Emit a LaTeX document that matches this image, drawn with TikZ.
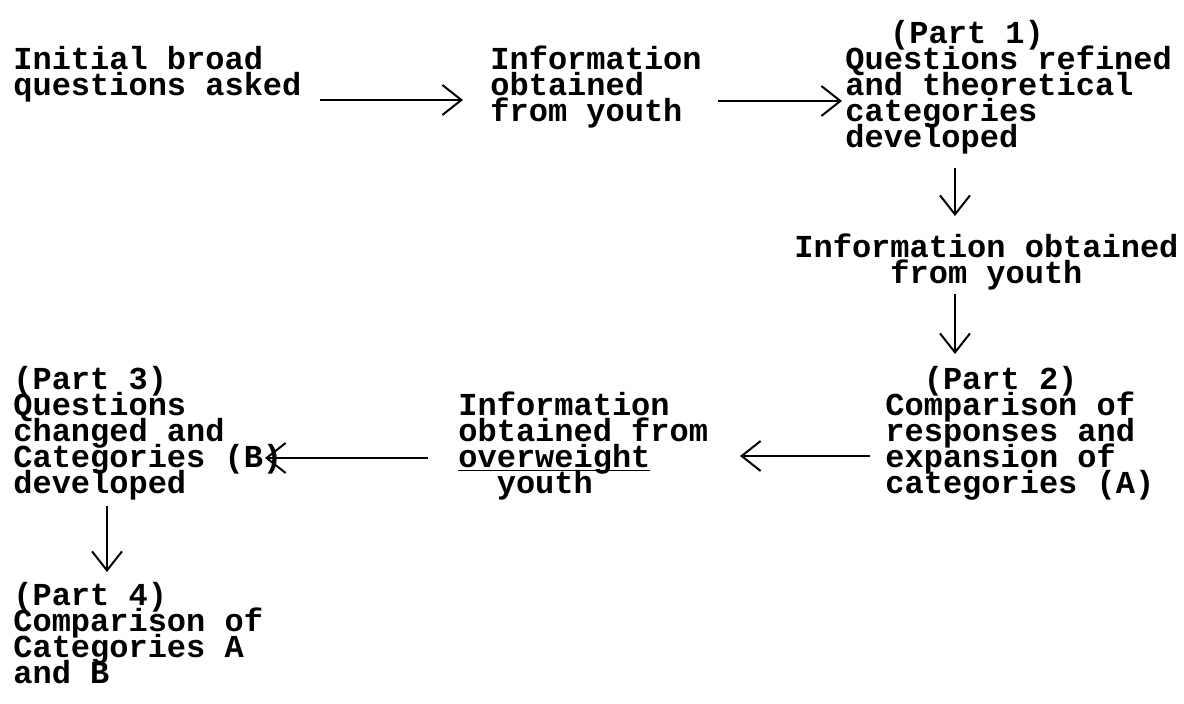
\documentclass[tikz,border=0pt]{standalone}
\usepackage{fontspec}
\setmainfont{Liberation Mono}
\usetikzlibrary{arrows.meta,calc}

\tikzset{
  txt/.style={anchor=base west, align=left, inner sep=0pt,
    font={\fontsize{16pt}{13pt}\selectfont\bfseries\lineskiplimit=-100pt\relax}},
  flow/.style={line width=1pt, -{Straight Barb[length=9.5pt,width=15pt]}}
}
\newcommand{\indnt}[1]{\hspace*{#1em}}

\begin{document}
\begin{tikzpicture}[x=0.5pt,y=-0.5pt]
        \useasboundingbox (0,0) rectangle (1184,704);

        % nodes sit on the baseline of their last line
        \path
        (13,96) node[txt](init) {Initial broad\\questions asked}
        (490,122) node[txt](info1) {Information\\obtained\\from youth}
        (845,148) node[txt](q1) {\indnt{1.4}(Part 1)\\Questions refined\\and theoretical\\categories\\developed}
        ;
        \draw[flow] ($(init.base west)+(307,4)$) -- ($(info1.base west)+(-27,-22)$);
        \draw[flow] ($(info1.base west)+(228,-21)$) -- ($(q1.base west)+(-3,-47)$);

        \path
        (794,284) node[txt](info2) {Information obtained\\\indnt{3}from youth}
        (885,494) node[txt](p2) {\indnt{1.2}(Part 2)\\Comparison of\\responses and\\expansion of\\categories (A)}
        ;
        \draw[flow] ($(q1.base west)+(110,20)$) -- ($(info2.base west)+(161,-68)$);
        \draw[flow] ($(info2.base west)+(161,10)$) -- ($(p2.base west)+(70,-140)$);

        \path
        (458,494) node[txt](info3) {Information\\obtained from\\\underline{\smash{overweight}}\\\indnt{1.2}youth}
        (13,494) node[txt](p3) {(Part 3)\\Questions\\changed and\\Categories (B)\\developed}
        (13,684) node[txt](p4) {(Part 4)\\Comparison of\\Categories A\\and B}
        ;
        \draw[flow] ($(p2.base west)+(-15,-38)$) -- ($(info3.base west)+(282,-38)$);
        \draw[flow] ($(info3.base west)+(-30,-36)$) -- ($(p3.base west)+(252,-36)$);
        \draw[flow] ($(p3.base west)+(94,12)$) -- ($(p4.base west)+(94,-112)$);
\end{tikzpicture}
\end{document}
